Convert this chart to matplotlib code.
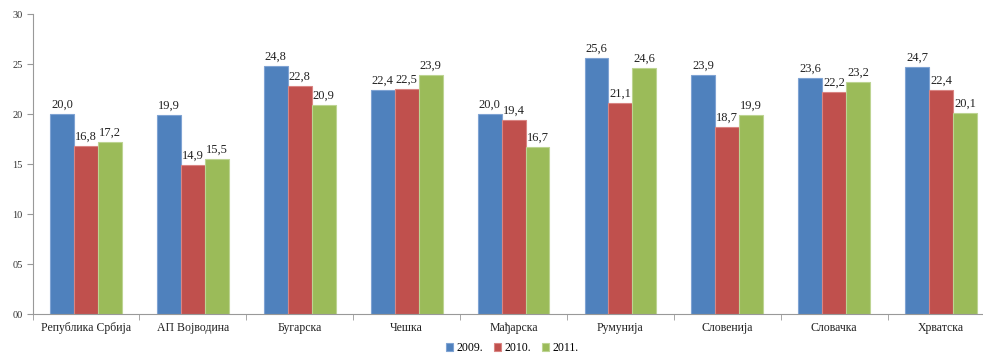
import numpy as np
import matplotlib.pyplot as plt

plt.rcParams['font.family'] = ['Liberation Serif', 'DejaVu Serif']

countries = ['Република Србија', 'АП Војводина', 'Бугарска', 'Чешка', 'Мађарска',
             'Румунија', 'Словенија', 'Словачка', 'Хрватска']
years = ['2009.', '2010.', '2011.']
v2009 = [20.0, 19.9, 24.8, 22.4, 20.0, 25.6, 23.9, 23.6, 24.7]
v2010 = [16.8, 14.9, 22.8, 22.5, 19.4, 21.1, 18.7, 22.2, 22.4]
v2011 = [17.2, 15.5, 20.9, 23.9, 16.7, 24.6, 19.9, 23.2, 20.1]
colors = ['#4F81BD', '#C0504D', '#9BBB59']
edges = ['#7FA3D3', '#D98583', '#BDD492']

fig = plt.figure(figsize=(9.83, 3.54), dpi=100)
ax = fig.add_axes([32.6 / 983, 1 - 314 / 354, (994.5 - 32.6) / 983, 300 / 354])

x = np.arange(len(countries))
w = 0.224
for i, (vals, c, ec, lab) in enumerate(zip([v2009, v2010, v2011], colors, edges, years)):
    pos = x + (i - 1) * w
    ax.bar(pos, vals, w, color=c, edgecolor=ec, linewidth=0.8, label=lab)
    for p, v in zip(pos, vals):
        ax.text(p, v + 0.35, f'{v:.1f}'.replace('.', ','), ha='center', va='bottom',
                fontsize=9, color='#222222')

ax.set_xlim(-0.5, len(countries) - 0.5)
ax.set_ylim(0, 30)
ax.set_yticks(range(0, 31, 5))
ax.set_yticklabels([f'{t:02d}' for t in range(0, 31, 5)], fontsize=7.5, color='#333333')
ax.set_xticks(x)
ax.set_xticklabels(countries, fontsize=8.5, color='#222222')
ax.set_xticks(np.arange(-0.5, len(countries), 1), minor=True)
ax.tick_params(axis='x', which='major', length=0, pad=6)
ax.tick_params(axis='x', which='minor', length=4, color='#999999', direction='out')
ax.tick_params(axis='y', length=4, color='#999999', pad=3)
for s in ['top', 'right']:
    ax.spines[s].set_visible(False)
for s in ['left', 'bottom']:
    ax.spines[s].set_color('#999999')
    ax.spines[s].set_linewidth(0.8)

fig.legend(loc='center', bbox_to_anchor=(512 / 983, 1 - 348 / 354), ncol=3, frameon=False,
           fontsize=8.5, handlelength=0.6, handleheight=0.6, handletextpad=0.3, columnspacing=0.9)

fig.savefig('out.png', dpi=100)
